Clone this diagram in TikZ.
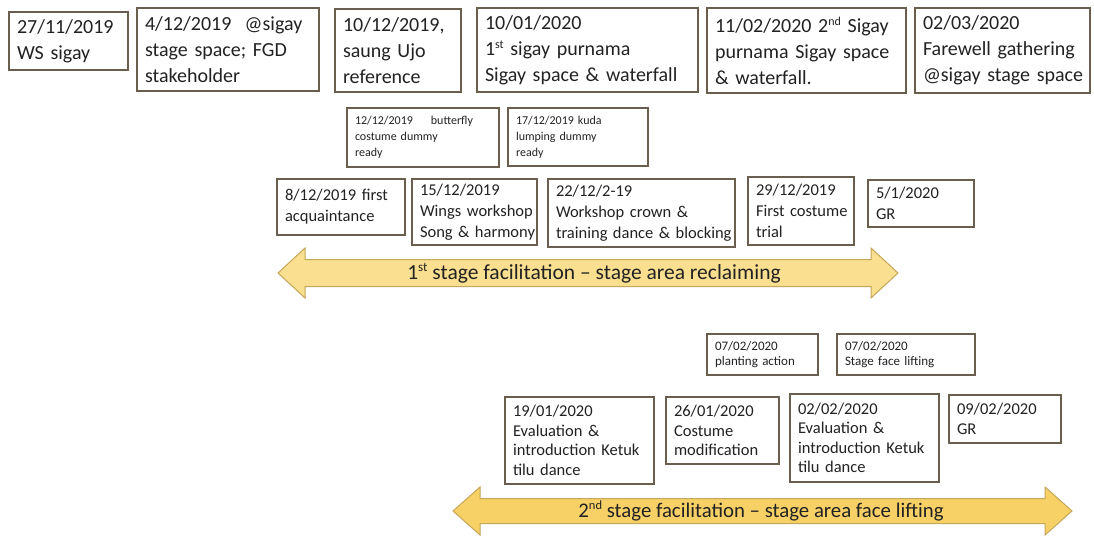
\documentclass[tikz,border=0pt]{standalone}
\usepackage{fontspec}
\setmainfont{Carlito}
\definecolor{boxc}{HTML}{6A5F4E}
\definecolor{txt}{HTML}{222222}
\definecolor{arrAfill}{HTML}{F9DF8F}
\definecolor{arrBfill}{HTML}{F7D066}
\definecolor{arredge}{HTML}{C4A759}
\def\padx{8pt}
\tikzset{
  tbox/.style={draw=boxc, line width=1.1pt, fill=white, inner xsep=\padx, inner ysep=1pt, align=left, text=txt},
  bigarrow/.style={draw=arredge, line width=1pt},
  arrlabel/.style={text=txt, inner sep=0pt}
}
\newcommand\tbx[7]{%
  \pgfmathsetlengthmacro\bw{(#4-#2)*1pt}%
  \pgfmathsetlengthmacro\bh{(#5-#3)*1pt}%
  \pgfmathsetlengthmacro\tw{(#4-#2)*1pt-2*\padx}%
  \node[tbox,font=#6,minimum width=\bw,minimum height=\bh,text width=\tw] (#1) at ({(#2+#4)/2},{(#3+#5)/2}) {#7};}
\newcommand\mysup[3]{\raisebox{#1pt}{\fontsize{#2}{#2}\selectfont #3}}
\newcommand\fT{\fontsize{20}{26}\selectfont}
\newcommand\fM{\fontsize{16.5}{21}\selectfont}
\newcommand\fB{\fontsize{16.5}{19.5}\selectfont}
\newcommand\fS{\fontsize{12}{16}\selectfont}
\newcommand\fP{\fontsize{13}{15.5}\selectfont}
\begin{document}
\begin{tikzpicture}[x=1pt,y=-1pt]
\useasboundingbox[fill=white] (0,0) rectangle (1094,535);
% top row
\tbx{b1}{9}{12}{128}{70}{\fT}{\mbox{27/11/2019}\\\mbox{WS sigay}}
\tbx{b2}{137}{8}{319}{91}{\fT}{\mbox{4/12/2019\ \ @sigay}\\\mbox{stage space; FGD}\\\mbox{stakeholder}}
\tbx{b3}{335}{9}{461}{92}{\fT}{\mbox{10/12/2019,}\\\mbox{saung Ujo}\\\mbox{reference}}
\tbx{b4}{477}{8}{698}{92}{\fT}{\mbox{10/01/2020}\\\mbox{1\mysup{7}{12}{st} sigay purnama}\\\mbox{Sigay space \& waterfall}}
\tbx{b5}{707}{8}{906}{93}{\fT}{\mbox{11/02/2020 2\mysup{7}{12}{nd} Sigay}\\\mbox{purnama Sigay space}\\\mbox{\& waterfall.}}
\tbx{b6}{915}{8}{1090}{93}{\fT}{\mbox{02/03/2020}\\\mbox{Farewell gathering}\\\mbox{@sigay stage space}}
% small middle
\tbx{s1}{347}{108}{499}{167}{\fS}{\mbox{12/12/2019\hspace{18pt}butterfly}\\\mbox{costume dummy}\\\mbox{ready}}
\tbx{s2}{508}{108}{648}{166}{\fS}{\mbox{17/12/2019 kuda}\\\mbox{lumping dummy}\\\mbox{ready}}
% middle row
\tbx{m1}{277}{179}{405}{235}{\fM}{\mbox{8/12/2019 first}\\\mbox{acquaintance}}
\tbx{m2}{412}{179}{537}{245}{\fM}{\mbox{15/12/2019}\\\mbox{Wings workshop}\\\mbox{Song \& harmony}}
\tbx{m3}{548}{179}{735}{247}{\fM}{\mbox{22/12/2-19}\\\mbox{Workshop crown \&}\\\mbox{training dance \& blocking}}
\tbx{m4}{748}{177}{854}{245}{\fM}{\mbox{29/12/2019}\\\mbox{First costume}\\\mbox{trial}}
\tbx{m5}{868}{180}{974}{227}{\fM}{\mbox{5/1/2020}\\\mbox{GR}}
% arrow 1
\path[bigarrow, fill=arrAfill] (278,273) -- (305,248) -- (305,259.5) -- (871,259.5) -- (871,248) -- (898,273) -- (871,298) -- (871,286.5) -- (305,286.5) -- (305,298) -- cycle;
\node[arrlabel, font=\fontsize{21.5}{24}\selectfont] (a1) at (594,273) {1\mysup{7.5}{13}{st} stage facilitation – stage area reclaiming};
% small bottom
\tbx{p1}{707}{334}{818}{375}{\fP}{\mbox{07/02/2020}\\\mbox{planting action}}
\tbx{p2}{837}{334}{975}{375}{\fP}{\mbox{07/02/2020}\\\mbox{Stage face lifting}}
% bottom row
\tbx{q1}{505}{397}{654}{484}{\fB}{\mbox{19/01/2020}\\\mbox{Evaluation \&}\\\mbox{introduction Ketuk}\\\mbox{tilu dance}}
\tbx{q2}{666}{397}{779}{464}{\fB}{\mbox{26/01/2020}\\\mbox{Costume}\\\mbox{modification}}
\tbx{q3}{790}{394}{939}{482}{\fB}{\mbox{02/02/2020}\\\mbox{Evaluation \&}\\\mbox{introduction Ketuk}\\\mbox{tilu dance}}
\tbx{q4}{949}{395}{1061}{443}{\fB}{\mbox{09/02/2020}\\\mbox{GR}}
% arrow 2
\path[bigarrow, fill=arrBfill] (453,511) -- (480,487) -- (480,498.5) -- (1045,498.5) -- (1045,487) -- (1072,511) -- (1045,535) -- (1045,523.5) -- (480,523.5) -- (480,535) -- cycle;
\node[arrlabel, font=\fontsize{20.8}{24}\selectfont] (a2) at (761,511) {2\mysup{7.5}{12.5}{nd} stage facilitation – stage area face lifting};
\end{tikzpicture}
\end{document}
